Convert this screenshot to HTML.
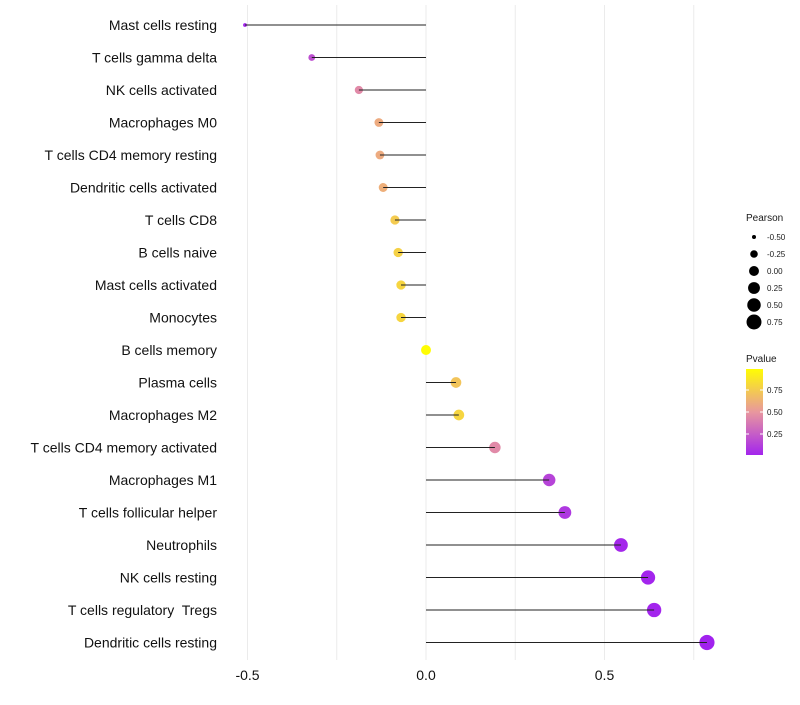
<!DOCTYPE html>
<html><head><meta charset="utf-8"><style>
body{margin:0;background:#fff;width:800px;height:700px;overflow:hidden}
svg text{font-family:"Liberation Sans",sans-serif;white-space:pre}
</style></head><body>
<svg id="chart" width="800" height="700"></svg>
<script>
const categories=["Mast cells resting","T cells gamma delta","NK cells activated","Macrophages M0","T cells CD4 memory resting","Dendritic cells activated","T cells CD8","B cells naive","Mast cells activated","Monocytes","B cells memory","Plasma cells","Macrophages M2","T cells CD4 memory activated","Macrophages M1","T cells follicular helper","Neutrophils","NK cells resting","T cells regulatory  Tregs","Dendritic cells resting"];
const pearson=[-0.507,-0.32,-0.188,-0.132,-0.129,-0.12,-0.087,-0.078,-0.07,-0.07,0,0.084,0.092,0.193,0.345,0.389,0.546,0.622,0.639,0.787];
const pvalue=[0.02,0.2,0.45,0.6,0.6,0.62,0.75,0.78,0.8,0.8,0.99,0.72,0.8,0.45,0.15,0.1,0.03,0.02,0.02,0.01];
const xTicks=[-0.5,0,0.5];
const xTickLabels=["-0.5","0.0","0.5"];
const gridVals=[-0.5,-0.25,0,0.25,0.5,0.75];
const sizeLegend=[-0.5,-0.25,0,0.25,0.5,0.75];
const sizeLegendLabels=["-0.50","-0.25","0.00","0.25","0.50","0.75"];
const pLegend=[0.25,0.5,0.75];

const NS="http://www.w3.org/2000/svg";
const svg=document.getElementById('chart');
const xs=v=>426+v*357;
const ys=i=>25+i*32.5;
const rs=v=>Math.sqrt(4+(v+0.5)*41.6);
function lerp(a,b,t){return a.map((x,i)=>Math.round(x+(b[i]-x)*t));}
function col(p){const s=[[160,32,240],[232,150,160],[255,255,0]];
 const c=p<0.5?lerp(s[0],s[1],p/0.5):lerp(s[1],s[2],(p-0.5)/0.5);return `rgb(${c})`;}
function mk(tag,attrs,parent){const e=document.createElementNS(NS,tag);for(const k in attrs)e.setAttribute(k,attrs[k]);(parent||svg).appendChild(e);return e;}

gridVals.forEach(v=>{const l=mk('line',{x1:xs(v),x2:xs(v),y1:5,y2:660,stroke:'#ebebeb','stroke-width':1});

});
categories.forEach((c,i)=>{
 const t=mk('text',{x:217,y:ys(i)+5,'text-anchor':'end','font-size':14,fill:'#111'});t.textContent=c;
 
 
 const d=mk('circle',{cx:xs(pearson[i]),cy:ys(i),r:rs(pearson[i]),fill:col(pvalue[i])});
 
 
 const seg=mk('line',{x1:xs(0),x2:xs(pearson[i]),y1:ys(i),y2:ys(i),stroke:'#222','stroke-width':1});
 
 
});
xTicks.forEach((v,i)=>{const t=mk('text',{x:xs(v),y:680,'text-anchor':'middle','font-size':14,fill:'#111'});t.textContent=xTickLabels[i];
 
 });
// size legend
const st=mk('text',{x:746,y:221,'font-size':10,fill:'#1a1a1a'});st.textContent='Pearson';


sizeLegend.forEach((v,i)=>{const y=237+i*17;
 const c=mk('circle',{cx:754,cy:y,r:rs(v),fill:'#000'});
 
 
 const t=mk('text',{x:767,y:y+3,'font-size':8,fill:'#1a1a1a'});t.textContent=sizeLegendLabels[i];
 
 });
// color legend
const ct=mk('text',{x:746,y:362,'font-size':10,fill:'#1a1a1a'});ct.textContent='Pvalue';


const defs=mk('defs',{});const g=mk('linearGradient',{id:'pg',x1:0,y1:1,x2:0,y2:0},defs);
[0,0.25,0.5,0.75,1].forEach(o=>mk('stop',{offset:o,'stop-color':col(0.02+o*0.97)},g));
const bar=mk('rect',{x:746,y:369,width:17,height:86,fill:'url(#pg)'});


const py=p=>456-p*88;
pLegend.forEach(p=>{mk('line',{x1:746,x2:749,y1:py(p),y2:py(p),stroke:'#fff'});mk('line',{x1:760,x2:763,y1:py(p),y2:py(p),stroke:'#fff'});
 const t=mk('text',{x:767,y:py(p)+3,'font-size':8,fill:'#1a1a1a'});t.textContent=p.toFixed(2);
 
 });
</script>
</body></html>
